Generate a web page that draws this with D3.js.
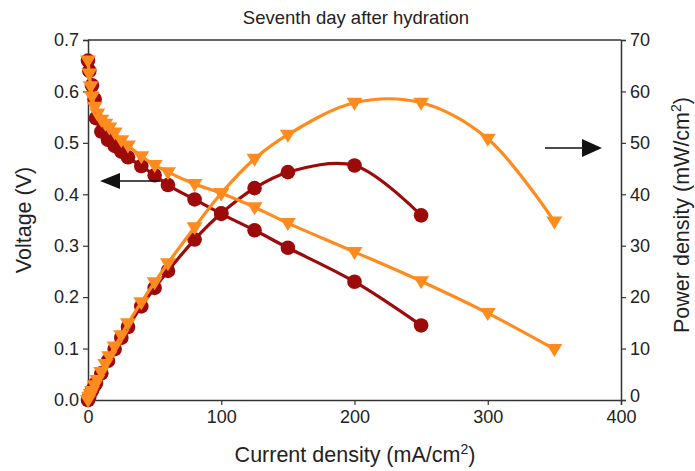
<!DOCTYPE html>
<html><head><meta charset="utf-8">
<script src="https://cdn.jsdelivr.net/npm/d3@7"></script>
<style>body{margin:0;background:#fff}svg{display:block;font-family:"Liberation Sans",Arial,sans-serif}</style>
</head><body><svg id="c" width="695" height="471"></svg>
<script>
// Data
const redCurrent = [0,1,3,5,6,10,15,20,25,30,40,50,60,80,100,125,150,200,250];
const redVoltage = [0.66,0.64,0.612,0.585,0.548,0.522,0.506,0.494,0.483,0.472,0.455,0.437,0.418,0.39,0.362,0.33,0.296,0.23,0.145];
const redPower   = [0,0.64,1.84,2.9,3.3,5.2,7.6,9.9,12.1,14.2,18.2,21.8,25.1,31.2,36.3,41.2,44.3,45.6,35.9];
const orCurrent  = [0,1,2,3,5,7,10,13,16,20,25,30,40,50,60,80,100,125,150,200,250,300,350];
const orVoltage  = [0.66,0.635,0.61,0.59,0.57,0.557,0.545,0.537,0.53,0.52,0.505,0.495,0.474,0.457,0.443,0.42,0.402,0.375,0.344,0.288,0.231,0.169,0.099];
const orPower    = [0,0.64,1.22,1.77,2.85,3.9,5.45,7.0,8.5,10.4,12.6,14.9,19.0,22.9,26.6,33.6,40.2,46.9,51.6,57.8,57.8,50.8,34.7];
const xTicks = [0,100,200,300,400];
const vTicks = [0,0.1,0.2,0.3,0.4,0.5,0.6,0.7];
const pTicks = [0,10,20,30,40,50,60,70];
const title = "Seventh day after hydration";

const RED = "#9c0a0a", ORANGE = "#ff8b1e", AX = "#333";
const svg = d3.select("#c");
const L = 88, R = 621, T = 40, B = 400;
const x = d3.scaleLinear().domain([0,400]).range([L,R]);
const yV = d3.scaleLinear().domain([0,0.7]).range([B,T]);
const yP = d3.scaleLinear().domain([0,70]).range([B,T]);

// axes
const fs = "18px";
const gx = svg.append("g").attr("transform",`translate(0,${B})`)
  .call(d3.axisBottom(x).tickValues(xTicks).tickSize(5).tickPadding(5).tickFormat(d3.format("d")));
const gl = svg.append("g").attr("transform",`translate(${L},0)`)
  .call(d3.axisLeft(yV).tickValues(vTicks).tickSize(5).tickPadding(4).tickFormat(d3.format(".1f")));
const gr = svg.append("g").attr("transform",`translate(${R},0)`)
  .call(d3.axisRight(yP).tickValues(pTicks).tickSize(5).tickPadding(4).tickFormat(d3.format("d")));
[gx,gl,gr].forEach(g=>{
  g.select(".domain").attr("stroke",AX).attr("stroke-width",1.5);
  g.selectAll(".tick line").attr("stroke",AX).attr("stroke-width",1.2);
  g.selectAll(".tick text").attr("fill","#222").style("font-size",fs).style("font-family","Liberation Sans, Arial, sans-serif");
});
gr.selectAll(".tick text").filter(d=>d===0).attr("dy","0.1em");
svg.append("line").attr("x1",L).attr("x2",R).attr("y1",T).attr("y2",T).attr("stroke",AX).attr("stroke-width",1.5);

// lines
function series(cur, vals, yS, color){
  const pts = cur.map((c,i)=>[x(c), yS(vals[i])]);
  svg.append("path").attr("d", d3.line().curve(d3.curveCatmullRom.alpha(0.5))(pts))
    .attr("fill","none").attr("stroke",color).attr("stroke-width",3.2);
  return pts;
}
const rv = series(redCurrent, redVoltage, yV, RED);
const rp = series(redCurrent, redPower, yP, RED);
svg.selectAll(null).data(rv.concat(rp)).enter().append("circle")
  .attr("cx",d=>d[0]).attr("cy",d=>d[1]).attr("r",7.3).attr("fill",RED);
const ov = series(orCurrent, orVoltage, yV, ORANGE);
const op = series(orCurrent, orPower, yP, ORANGE);
const tri = "M-8,-5 L8,-5 L0,8 Z";
svg.selectAll(null).data(ov.concat(op)).enter().append("path")
  .attr("d",tri).attr("transform",d=>`translate(${d[0]},${d[1]})`).attr("fill",ORANGE);

// arrows
svg.append("line").attr("x1",160).attr("x2",118).attr("y1",181).attr("y2",181).attr("stroke","#111").attr("stroke-width",1.5);
svg.append("path").attr("d","M100,181 L120,173 L120,189 Z").attr("fill","#111");
svg.append("line").attr("x1",545).attr("x2",585).attr("y1",148).attr("y2",148).attr("stroke","#111").attr("stroke-width",1.5);
svg.append("path").attr("d","M602,148 L582,139 L582,157 Z").attr("fill","#111");

// text
svg.append("text").attr("x",356).attr("y",24).attr("text-anchor","middle").style("font-size","18.5px").attr("fill","#222").text(title);
const xl = svg.append("text").attr("x",355).attr("y",462).attr("text-anchor","middle").style("font-size","21.5px").attr("fill","#222");
xl.append("tspan").text("Current density (mA/cm");
xl.append("tspan").attr("dy",-8).style("font-size","14px").text("2");
xl.append("tspan").attr("dy",8).text(")");
svg.append("text").attr("transform","translate(31,220) rotate(-90)").attr("text-anchor","middle").style("font-size","21.5px").attr("fill","#222").text("Voltage (V)");
const pl = svg.append("text").attr("transform","translate(689,215) rotate(-90)").attr("text-anchor","middle").style("font-size","21.5px").attr("fill","#222");
pl.append("tspan").text("Power density (mW/cm");
pl.append("tspan").attr("dy",-8).style("font-size","14px").text("2");
pl.append("tspan").attr("dy",8).text(")");
</script></body></html>
